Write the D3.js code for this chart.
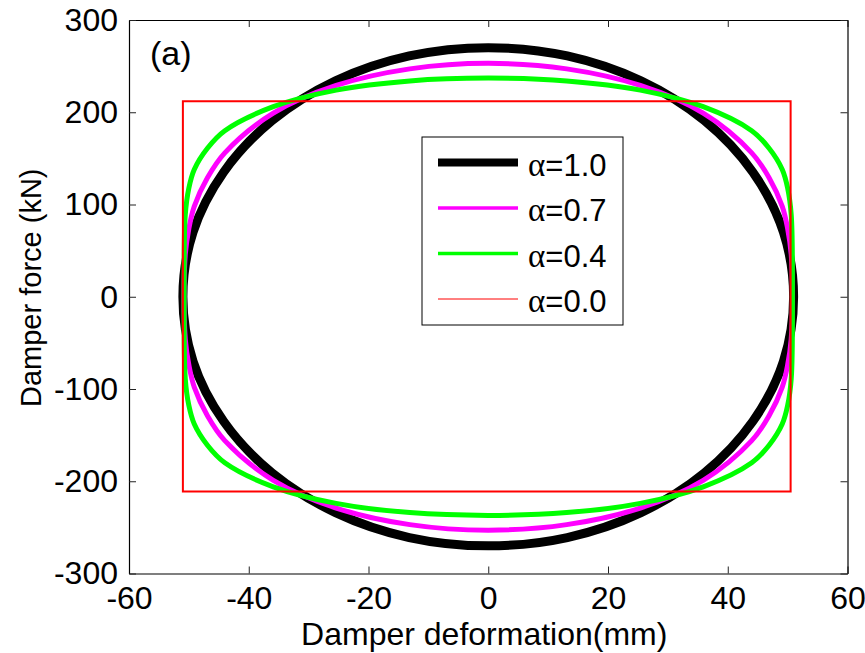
<!DOCTYPE html>
<html>
<head>
<meta charset="utf-8">
<script src="https://cdn.jsdelivr.net/npm/d3@7"></script>
<style>
  html, body { margin: 0; padding: 0; background: #fff; }
  svg text { font-family: "Liberation Sans", Arial, sans-serif; fill: #000; }
</style>
</head>
<body>
<svg id="chart" width="865" height="653"></svg>
<script>
// Hysteresis loops of a fluid viscous damper, force vs. deformation,
// for several damping exponents alpha. Points are [deformation mm, force kN].
const loopAlpha10 = [
  [51, 0], [49.3, 70], [44.2, 135], [36.1, 191], [25.5, 234], [13.2, 261], [0, 270],
  [-13.2, 261], [-25.5, 234], [-36.1, 191], [-44.2, 135], [-49.3, 70], [-51, 0],
  [-49.3, -70], [-44.2, -135], [-36.1, -191], [-25.5, -234], [-13.2, -261], [0, -270],
  [13.2, -261], [25.5, -234], [36.1, -191], [44.2, -135], [49.3, -70]
];
const loopAlpha07 = [
  [50.8, 0], [50.6, 46], [50, 74], [49.1, 98], [46.9, 129], [44, 156], [35.9, 199],
  [25.4, 229], [13.1, 247], [0, 253],
  [-13.1, 247], [-25.4, 229], [-35.9, 199], [-44, 156], [-46.9, 129], [-49.1, 98],
  [-50, 74], [-50.6, 46], [-50.8, 0],
  [-50.6, -46], [-50, -74], [-49.1, -98], [-46.9, -129], [-44, -156], [-35.9, -199],
  [-25.4, -229], [-13.1, -247], [0, -253],
  [13.1, -247], [25.4, -229], [35.9, -199], [44, -156], [46.9, -129], [49.1, -98],
  [50, -74], [50.6, -46]
];
const loopAlpha04 = [
  [50.8, 0], [50.6, 89], [50, 118], [49.1, 138], [46.9, 161], [44, 180], [35.9, 206],
  [25.4, 224], [13.1, 234], [0, 237],
  [-13.1, 234], [-25.4, 224], [-35.9, 206], [-44, 180], [-46.9, 161], [-49.1, 138],
  [-50, 118], [-50.6, 89], [-50.8, 0],
  [-50.6, -89], [-50, -118], [-49.1, -138], [-46.9, -161], [-44, -180], [-35.9, -206],
  [-25.4, -224], [-13.1, -234], [0, -237],
  [13.1, -234], [25.4, -224], [35.9, -206], [44, -180], [46.9, -161], [49.1, -138],
  [50, -118], [50.6, -89]
];
const loopAlpha00 = [
  [50.5, 0], [50.5, 212], [-51, 212], [-51, -211], [50.5, -211]
];

const seriesLabels = ["1.0", "0.7", "0.4", "0.0"];
const xTicks = [-60, -40, -20, 0, 20, 40, 60];
const yTicks = [-300, -200, -100, 0, 100, 200, 300];
const xLabel = "Damper deformation(mm)";
const yLabel = "Damper force (kN)";
const panelTag = "(a)";

const series = [
  { label: seriesLabels[0], data: loopAlpha10, color: "#000000", width: 9, smooth: true },
  { label: seriesLabels[1], data: loopAlpha07, color: "#ff00ff", width: 5, smooth: true },
  { label: seriesLabels[2], data: loopAlpha04, color: "#00ff00", width: 5, smooth: true },
  { label: seriesLabels[3], data: loopAlpha00, color: "#ff0000", width: 2, smooth: false }
];
const legendWidths = [8, 3.5, 3.5, 1];

const svg = d3.select("#chart");
const plotLeft = 129, plotRight = 847.5, plotTop = 20, plotBottom = 573.5;

const x = d3.scaleLinear().domain([-60, 60]).range([plotLeft, plotRight]);
const y = d3.scaleLinear().domain([-300, 300]).range([plotBottom, plotTop]);

// loops
const smoothLine = d3.line().x(d => x(d[0])).y(d => y(d[1])).curve(d3.curveCatmullRomClosed.alpha(0.5));
const straightLine = d3.line().x(d => x(d[0])).y(d => y(d[1])).curve(d3.curveLinearClosed);

const plot = svg.append("g");
series.forEach(s => {
  plot.append("path")
    .attr("d", (s.smooth ? smoothLine : straightLine)(s.data))
    .attr("fill", "none")
    .attr("stroke", s.color)
    .attr("stroke-width", s.width)
    .attr("stroke-linejoin", "miter");
});

// axes: ticks point inward on all four sides, labels on bottom and left
const tickLen = 7;
const fontSize = 32;
const plainNum = d => String(d);   // ASCII hyphen for negatives
const axisB = d3.axisBottom(x).tickValues(xTicks).tickFormat(plainNum).tickSizeInner(-tickLen).tickSizeOuter(0).tickPadding(13);
const axisT = d3.axisTop(x).tickValues(xTicks).tickSizeInner(-tickLen).tickSizeOuter(0).tickFormat("");
const axisL = d3.axisLeft(y).tickValues(yTicks).tickFormat(plainNum).tickSizeInner(-tickLen).tickSizeOuter(0).tickPadding(11);
const axisR = d3.axisRight(y).tickValues(yTicks).tickSizeInner(-tickLen).tickSizeOuter(0).tickFormat("");

function styleAxis(g) {
  g.select(".domain").attr("stroke", "#000").attr("stroke-width", 1.2);
  g.selectAll(".tick line").attr("stroke", "#222").attr("stroke-width", 1);
  g.selectAll(".tick text")
    .attr("font-family", "Liberation Sans, Arial, sans-serif")
    .attr("font-size", fontSize)
    .attr("fill", "#000");
}

svg.append("g").attr("transform", `translate(0,${plotBottom})`).call(axisB).call(styleAxis);
svg.append("g").attr("transform", `translate(0,${plotTop})`).call(axisT).call(styleAxis);
svg.append("g").attr("transform", `translate(${plotLeft},0)`).call(axisL).call(styleAxis);
svg.append("g").attr("transform", `translate(${plotRight},0)`).call(axisR).call(styleAxis);

// axis titles
svg.append("text")
  .attr("x", (plotLeft + plotRight) / 2 - 4)
  .attr("y", 645)
  .attr("text-anchor", "middle")
  .attr("font-size", 32)
  .text(xLabel);

svg.append("text")
  .attr("transform", `translate(41,${(plotTop + plotBottom) / 2 - 9}) rotate(-90)`)
  .attr("text-anchor", "middle")
  .attr("font-size", 29)
  .text(yLabel);

// panel tag
svg.append("text")
  .attr("x", 150)
  .attr("y", 65)
  .attr("font-size", 34)
  .text(panelTag);

// legend
const lg = svg.append("g");
const lgX0 = 422, lgY0 = 137, lgW = 201, lgH = 188;
lg.append("rect")
  .attr("x", lgX0).attr("y", lgY0).attr("width", lgW).attr("height", lgH)
  .attr("fill", "#fff").attr("stroke", "#000").attr("stroke-width", 1);

const rowY = d3.scaleLinear().domain([0, 3]).range([162.5, 299]);
series.forEach((s, i) => {
  const yy = i === 3 ? Math.round(rowY(i)) : rowY(i);
  lg.append("line")
    .attr("x1", 438).attr("x2", 518)
    .attr("y1", yy).attr("y2", yy)
    .attr("stroke", s.color)
    .attr("stroke-width", legendWidths[i]);
  const t = lg.append("text")
    .attr("x", 528)
    .attr("y", rowY(i) + 13)
    .attr("font-size", 31);
  t.append("tspan")
    .attr("font-family", "Liberation Serif, DejaVu Serif, serif")
    .attr("font-size", 33)
    .text("\u03b1");
  t.append("tspan").text("=" + s.label);
});
</script>
</body>
</html>
